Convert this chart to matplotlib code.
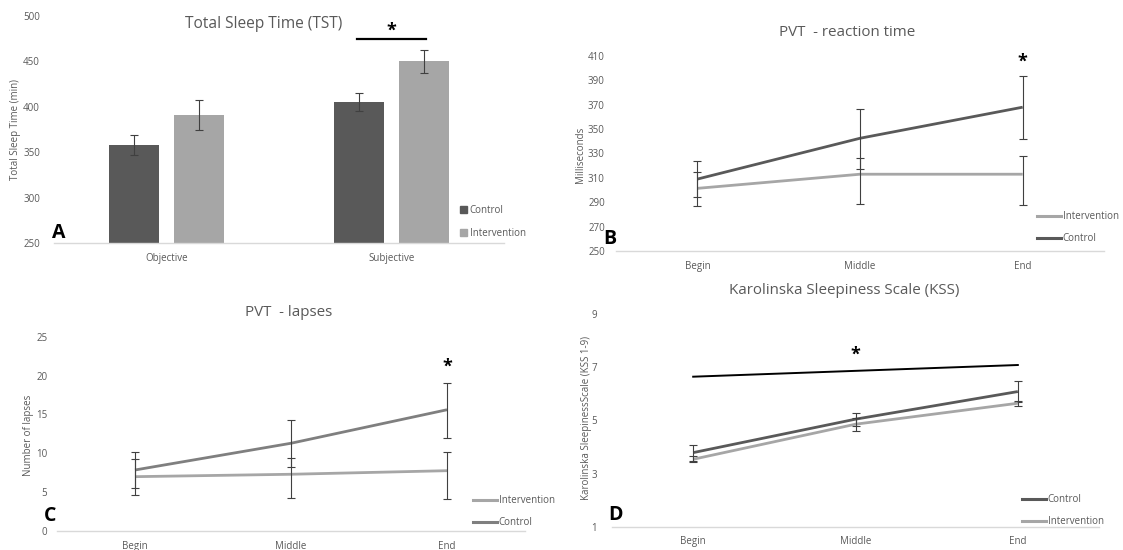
import matplotlib.pyplot as plt
import numpy as np
from matplotlib.lines import Line2D
from matplotlib.patches import Patch

plt.rcParams['font.family'] = ['Open Sans', 'DejaVu Sans']

######################
### data ###
######################

# A - total sleep time (min)
tst_groups = ["Objective", "Subjective"]
tst_control = [358, 405]
tst_control_err = [11, 10]
tst_interv = [391, 450]
tst_interv_err = [16.5, 13]

phases = ["Begin", "Middle", "End"]

# B - PVT reaction time (ms)
rt_control = [309, 342.5, 368]
rt_control_lo = [15, 25.5, 26]
rt_control_hi = [15, 24, 25.3]
rt_interv = [301.4, 313, 313]
rt_interv_lo = [14.5, 24.7, 25.5]
rt_interv_hi = [13.2, 13, 14.7]

# C - PVT lapses
lap_control = [7.85, 11.29, 15.6]
lap_control_lo = [2.35, 3.09, 3.6]
lap_control_hi = [2.28, 3.0, 3.49]
lap_interv = [6.99, 7.3, 7.76]
lap_interv_lo = [2.36, 3.1, 3.6]
lap_interv_hi = [2.28, 2.06, 2.41]

# D - KSS
kss_control = [3.79, 5.05, 6.09]
kss_control_err = [0.3, 0.25, 0.4]
kss_interv = [3.54, 4.86, 5.65]
kss_interv_err = [0.12, 0.24, 0.1]
kss_sig = [6.65, 6.87, 7.09]

######################
### plot ###
######################

W, H = 1123, 550
dark = "#595959"
mid = "#7f7f7f"
light = "#a6a6a6"
txt = "#595959"
ebar = "#404040"
title_size = 10.9

fig = plt.figure(figsize=(W / 100, H / 100), dpi=100)


def px_axes(x0, x1, ytop, ybot):
    return fig.add_axes([x0 / W, 1 - ybot / H, (x1 - x0) / W, (ybot - ytop) / H])


def fx(x):
    return x / W


def fy(y):
    return 1 - y / H


def style(ax, ylim, yticks, ypad):
    ax.set_ylim(*ylim)
    ax.set_yticks(yticks)
    for s in ["top", "right", "left"]:
        ax.spines[s].set_visible(False)
    ax.spines["bottom"].set_color("#d9d9d9")
    ax.spines["bottom"].set_linewidth(1.0)
    ax.tick_params(length=0, labelsize=7, labelcolor=txt)
    ax.tick_params(axis="y", pad=ypad)
    ax.tick_params(axis="x", pad=7)
    ax.patch.set_alpha(0)


#---- A ----
axA = px_axes(54, 504, 16, 243)
xg = np.arange(len(tst_groups))
bw = 0.222
off = 0.144
axA.bar(xg - off, tst_control, bw, color=dark, label="Control")
axA.bar(xg + off, tst_interv, bw, color=light, label="Intervention")
axA.errorbar(xg - off, tst_control, yerr=tst_control_err, fmt="none",
             ecolor=ebar, elinewidth=0.8, capsize=3, capthick=0.8)
axA.errorbar(xg + off, tst_interv, yerr=tst_interv_err, fmt="none",
             ecolor=ebar, elinewidth=0.8, capsize=3, capthick=0.8)
axA.set_xlim(-0.5, 1.5)
axA.set_xticks(xg)
axA.set_xticklabels(tst_groups)
style(axA, (250, 500), np.arange(250, 501, 50), 10)
axA.plot([1 - 0.155, 1 + 0.155], [475, 475], color="black", lw=1.6)
axA.text(1, 484, "*", ha="center", va="center", fontsize=13, fontweight="bold")
axA.legend(handles=[Patch(color=dark), Patch(color=light)], labels=["Control", "Intervention"],
           loc="upper left", bbox_to_anchor=(fx(460), fy(205)), bbox_transform=fig.transFigure,
           frameon=False, fontsize=7, labelcolor=txt, handlelength=0.7, handleheight=0.7,
           handletextpad=0.3, labelspacing=1.2, borderpad=0, borderaxespad=0)
fig.text(fx(264), fy(24), "Total Sleep Time (TST)", ha="center", va="center",
         fontsize=title_size + 0.3, color=txt)
fig.text(fx(59), fy(233), "A", ha="center", va="center", fontsize=14, fontweight="bold")
fig.text(fx(16), fy(130), "Total Sleep Time (min)", ha="center", va="center", rotation=90,
         fontsize=7, color=txt)

x3 = np.arange(len(phases))


def line_panel(ax, series):
    for vals, lo, hi, col, lab in series:
        ax.plot(x3, vals, color=col, lw=2, label=lab, solid_capstyle="butt")
        ax.errorbar(x3, vals, yerr=[lo, hi], fmt="none", ecolor=ebar,
                    elinewidth=0.8, capsize=3, capthick=0.8)
    ax.set_xlim(-0.5, 2.5)
    ax.set_xticks(x3)
    ax.set_xticklabels(phases)


def line_legend(ax, items, x, y):
    hs = [Line2D([], [], color=c, lw=2.2) for c, _ in items]
    ax.legend(handles=hs, labels=[l for _, l in items], loc="upper left",
              bbox_to_anchor=(fx(x), fy(y)), bbox_transform=fig.transFigure,
              frameon=False, fontsize=7, labelcolor=txt, handlelength=2.5,
              handletextpad=0.15, labelspacing=1.15, borderpad=0, borderaxespad=0)


#---- B ----
axB = px_axes(616, 1104, 56, 251)
line_panel(axB, [(rt_interv, rt_interv_lo, rt_interv_hi, light, "Intervention"),
                 (rt_control, rt_control_lo, rt_control_hi, dark, "Control")])
style(axB, (250, 410), np.arange(250, 411, 20), 8)
axB.text(2, 405, "*", ha="center", va="center", fontsize=13, fontweight="bold")
line_legend(axB, [(light, "Intervention"), (dark, "Control")], 1037, 211)
fig.text(fx(847), fy(32), "PVT  - reaction time", ha="center", va="center",
         fontsize=title_size, color=txt)
fig.text(fx(610), fy(239), "B", ha="center", va="center", fontsize=14, fontweight="bold")
fig.text(fx(580), fy(155), "Milliseconds", ha="center", va="center", rotation=90,
         fontsize=7, color=txt)

#---- C ----
axC = px_axes(57, 525, 336.7, 531)
line_panel(axC, [(lap_interv, lap_interv_lo, lap_interv_hi, light, "Intervention"),
                 (lap_control, lap_control_lo, lap_control_hi, mid, "Control")])
style(axC, (0, 25), np.arange(0, 26, 5), 7)
axC.text(2, 21.1, "*", ha="center", va="center", fontsize=13, fontweight="bold")
line_legend(axC, [(light, "Intervention"), (mid, "Control")], 473, 495)
fig.text(fx(289), fy(312), "PVT  - lapses", ha="center", va="center",
         fontsize=title_size, color=txt)
fig.text(fx(50), fy(516), "C", ha="center", va="center", fontsize=14, fontweight="bold")
fig.text(fx(29), fy(435), "Number of lapses", ha="center", va="center", rotation=90,
         fontsize=7, color=txt)

#---- D ----
axD = px_axes(612, 1099, 314.3, 526.7)
line_panel(axD, [(kss_control, kss_control_err, kss_control_err, dark, "Control"),
                 (kss_interv, kss_interv_err, kss_interv_err, light, "Intervention")])
style(axD, (1, 9), np.arange(1, 10, 2), 11)
axD.plot(x3, kss_sig, color="black", lw=1.4)
axD.text(1, 7.47, "*", ha="center", va="center", fontsize=13, fontweight="bold")
line_legend(axD, [(dark, "Control"), (light, "Intervention")], 1022, 494)
fig.text(fx(844), fy(290), "Karolinska Sleepiness Scale (KSS)", ha="center", va="center",
         fontsize=title_size, color=txt)
fig.text(fx(616), fy(515), "D", ha="center", va="center", fontsize=14, fontweight="bold")
fig.text(fx(587), fy(418), "Karolinska SleepinessScale (KSS 1-9)", ha="center", va="center",
         rotation=90, fontsize=7, color=txt)

fig.savefig("out.png", dpi=100)
